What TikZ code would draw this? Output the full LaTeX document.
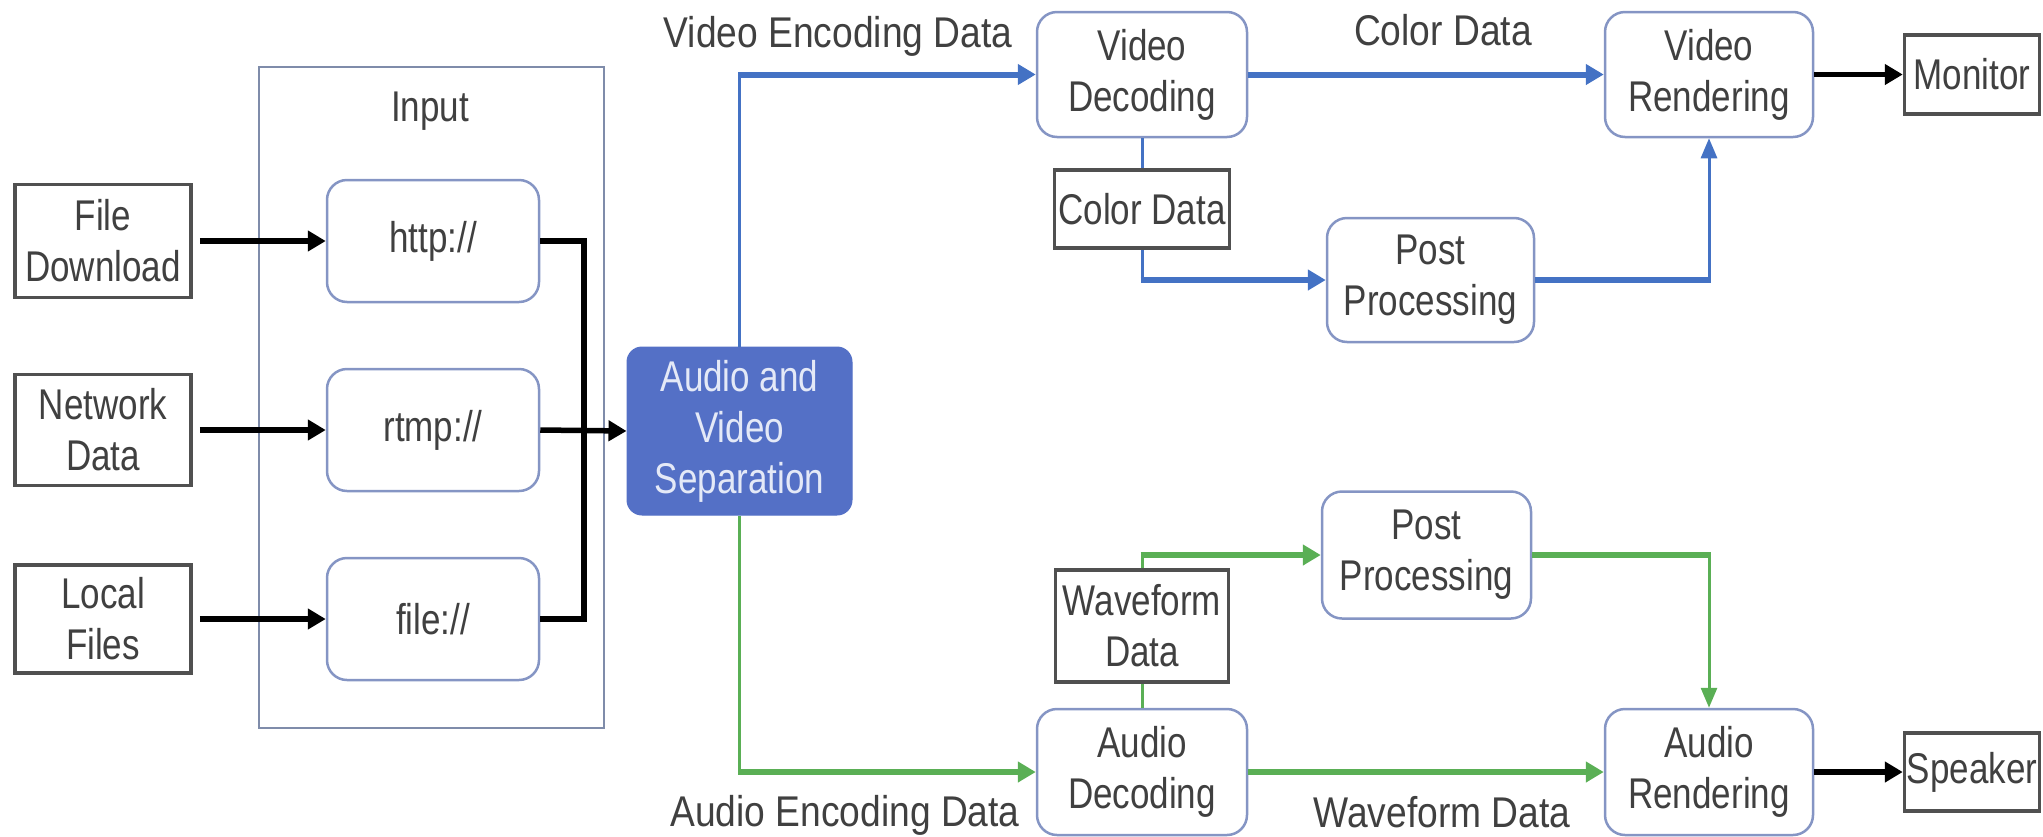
\documentclass[tikz,border=0pt]{standalone}
\usepackage{fontspec}
\setmainfont{Liberation Sans}[FakeStretch=0.814]
\newfontfamily\edgefont{Liberation Sans}[FakeStretch=0.865]
\usetikzlibrary{arrows.meta}
\definecolor{txt}{HTML}{404040}
\definecolor{rboxc}{HTML}{8595C4}
\definecolor{inputc}{HTML}{7F8CAA}
\definecolor{lboxc}{HTML}{505050}
\definecolor{vline}{HTML}{4472C4}
\definecolor{aline}{HTML}{5AAF55}
\definecolor{avsfill}{HTML}{5470C6}
\definecolor{avstext}{HTML}{E4E9F7}
\begin{document}
\begin{tikzpicture}[x=1pt,y=-1pt,
  every node/.style={text=txt, font=\fontsize{43}{51}\selectfont, align=center, inner sep=0pt},
  rbox/.style={draw=rboxc, line width=2.5pt, rounded corners=20pt, fill=white},
  lbox/.style={draw=lboxc, line width=3.5pt, fill=white},
  edgelabel/.style={anchor=base, font=\edgefont\fontsize{43}{51}\selectfont},
  thickln/.style={line width=6pt},
  thinln/.style={line width=3pt},
  bigtip/.style={-{Triangle[length=18pt,width=20pt]}},
  thintip/.style={-{Triangle[length=20pt,width=16pt]}},
  blk/.style={draw=black, line width=5.5pt},
]
\useasboundingbox (0,0) rectangle (2043,836);

% input stage
\node[draw=inputc, line width=2pt, minimum width=345pt, minimum height=661pt] (input) at (431.5,397.5) {};
\node[anchor=base] (inlabel) at (430,121) {Input};

\node[rbox, minimum width=212pt, minimum height=122pt] (http) at (433,241) {http://};
\node[rbox, minimum width=212pt, minimum height=122pt] (rtmp) at (433,430) {rtmp://};
\node[rbox, minimum width=212pt, minimum height=122pt] (file) at (433,619) {file://};

\node[lbox, minimum width=176pt, minimum height=113pt] (fd) at (103,241) {File\\Download};
\node[lbox, minimum width=176pt, minimum height=111pt] (nd) at (103,430) {Network\\Data};
\node[lbox, minimum width=176pt, minimum height=108pt] (lf) at (103,619) {Local\\Files};

\node[draw=avsfill, fill=avsfill, line width=1pt, rounded corners=15pt, text=avstext,
      minimum width=225pt, minimum height=168pt] (avs) at (739.5,431) {Audio and\\Video\\Separation};

% video branch
\node[rbox, minimum width=210pt, minimum height=125pt] (vd) at (1142,74.5) {Video\\Decoding};
\node[rbox, minimum width=208pt, minimum height=125pt] (vr) at (1709,74.5) {Video\\Rendering};
\node[rbox, minimum width=207pt, minimum height=124pt] (ppv) at (1430.5,280) {Post\\Processing};
\node[lbox, minimum width=175pt, minimum height=78pt] (cd) at (1142,209) {Color Data};
\node[lbox, minimum width=135pt, minimum height=79pt] (mon) at (1972,74.5) {Monitor};

% audio branch
\node[rbox, minimum width=210pt, minimum height=126pt] (ad) at (1142,772) {Audio\\Decoding};
\node[rbox, minimum width=208pt, minimum height=126pt] (ar) at (1709,772) {Audio\\Rendering};
\node[rbox, minimum width=209pt, minimum height=127pt] (ppa) at (1426.5,555) {Post\\Processing};
\node[lbox, minimum width=173pt, minimum height=112pt] (wd) at (1142,626) {Waveform\\Data};
\node[lbox, minimum width=135pt, minimum height=78pt] (spk) at (1972,772) {Speaker};

% edge labels
\node[edgelabel] (vencl) at (838,47) {Video Encoding Data};
\node[edgelabel] (cdl) at (1443,45) {Color Data};
\node[edgelabel] (aencl) at (845,826) {Audio Encoding Data};
\node[edgelabel] (wdl) at (1442,827) {Waveform Data};

% input connectors
\draw[blk, bigtip, shorten <=7pt] (fd.east) -- (http.west);
\draw[blk, bigtip, shorten <=7pt] (nd.east) -- (rtmp.west);
\draw[blk, bigtip, shorten <=7pt] (lf.east) -- (file.west);
\coordinate (bus) at (584,430);
\draw[blk] (http.east) -- (http.east -| bus) -- (file.east -| bus) -- (file.east);
\draw[blk, bigtip] (rtmp.east) -- (avs.west);

% video connectors
\coordinate (vc) at (avs.north |- vd.west);
\draw[vline, thinln] (avs.north) -- ([yshift=-1.5pt]vc);
\draw[vline, thickln, bigtip] ([xshift=-1.5pt]vc) -- (vd.west);
\draw[vline, thickln, bigtip] (vd.east) -- (vr.west);
\draw[vline, thinln] (vd.south) -- (cd.north);
\coordinate (cdc) at (cd.south |- ppv.west);
\draw[vline, thinln] (cd.south) -- ([yshift=1.5pt]cdc);
\draw[vline, thickln, bigtip] ([xshift=-1.5pt]cdc) -- (ppv.west);
\coordinate (ppvc) at (vr.south |- ppv.east);
\draw[vline, thickln] (ppv.east) -- ([xshift=1.5pt]ppvc);
\draw[vline, thinln, thintip] ([yshift=-1.5pt]ppvc) -- (vr.south);
\draw[blk, bigtip] (vr.east) -- (mon.west);

% audio connectors
\coordinate (ac) at (avs.south |- ad.west);
\draw[aline, thinln] (avs.south) -- ([yshift=1.5pt]ac);
\draw[aline, thickln, bigtip] ([xshift=-1.5pt]ac) -- (ad.west);
\draw[aline, thickln, bigtip] (ad.east) -- (ar.west);
\draw[aline, thinln] (ad.north) -- (wd.south);
\coordinate (wdc) at (wd.north |- ppa.west);
\draw[aline, thinln] (wd.north) -- ([yshift=-1.5pt]wdc);
\draw[aline, thickln, bigtip] ([xshift=-1.5pt]wdc) -- (ppa.west);
\coordinate (ppac) at (ar.north |- ppa.east);
\draw[aline, thickln] (ppa.east) -- ([xshift=1.5pt]ppac);
\draw[aline, thinln, thintip] ([yshift=1.5pt]ppac) -- (ar.north);
\draw[blk, bigtip] (ar.east) -- (spk.west);
\end{tikzpicture}
\end{document}
